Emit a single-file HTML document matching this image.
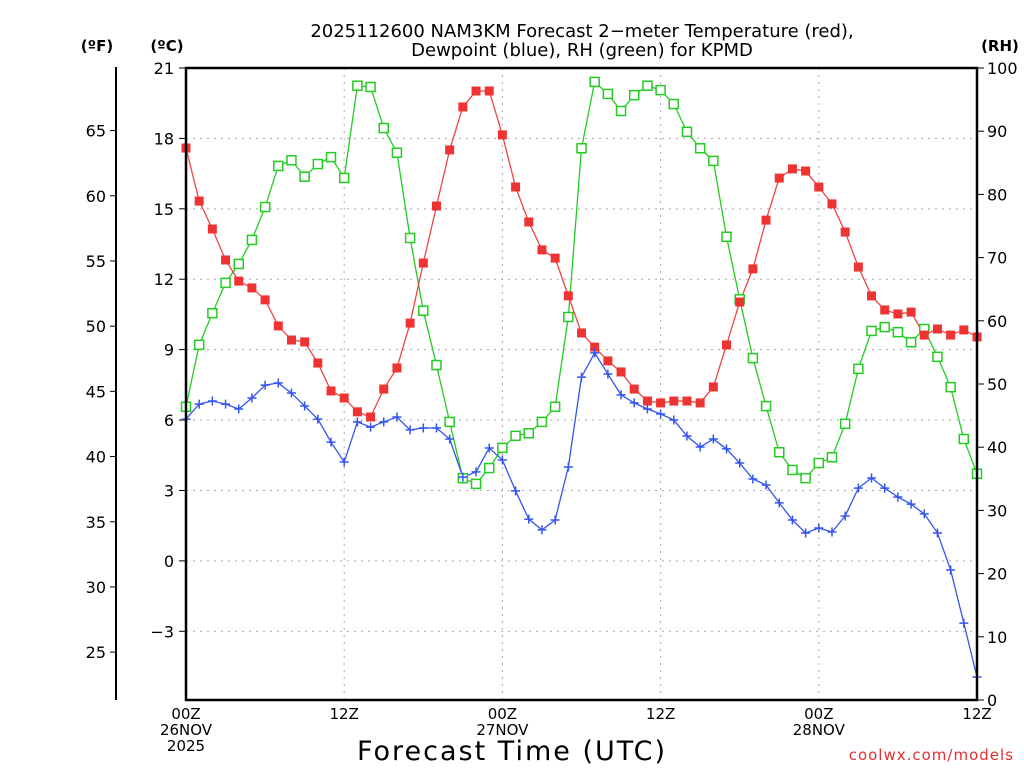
<!DOCTYPE html>
<html><head><meta charset="utf-8"><style>
body{margin:0;background:#fff}
svg text{font-family:"DejaVu Sans","Liberation Sans",sans-serif}
</style></head><body>
<svg id="chart" width="1024" height="768" viewBox="0 0 1024 768">
<text x="582" y="37" font-size="18" text-anchor="middle">2025112600 NAM3KM Forecast 2−meter Temperature (red),</text>
<text x="582" y="56" font-size="18" text-anchor="middle">Dewpoint (blue), RH (green) for KPMD</text>
<text x="97" y="51" font-size="15" font-weight="bold" text-anchor="middle">(ºF)</text>
<text x="167" y="51" font-size="15" font-weight="bold" text-anchor="middle">(ºC)</text>
<text x="1000" y="51" font-size="15" font-weight="bold" text-anchor="middle">(RH)</text>
<g id="grid"></g>
<g id="axes"></g>
<g id="series"></g>
<rect x="186" y="68" width="791" height="632" fill="none" stroke="#000" stroke-width="2.5"/>
<text x="512" y="760" font-size="27" text-anchor="middle" letter-spacing="2">Forecast Time (UTC)</text>
<text x="1014" y="760" font-size="15" fill="#e03030" text-anchor="end" letter-spacing="1">coolwx.com/models</text>
</svg>
<script>
const hours = Array.from({length:61},(_,i)=>i);
const tempC = [17.59,15.33,14.14,12.82,11.92,11.63,11.12,10.01,9.41,9.33,8.43,7.24,6.94,6.35,6.13,7.32,8.22,10.13,12.69,15.12,17.51,19.34,20.02,20.02,18.15,15.93,14.44,13.25,12.90,11.29,9.71,9.11,8.52,8.05,7.32,6.81,6.73,6.81,6.81,6.73,7.41,9.20,11.03,12.44,14.52,16.31,16.70,16.61,15.93,15.21,14.01,12.52,11.29,10.69,10.52,10.60,9.62,9.88,9.62,9.84,9.54];
const dewC = [6.04,6.68,6.81,6.68,6.47,6.94,7.49,7.58,7.15,6.60,6.04,5.06,4.21,5.92,5.70,5.92,6.13,5.58,5.66,5.66,5.19,3.57,3.79,4.81,4.30,2.98,1.78,1.32,1.74,4.00,7.83,8.86,7.96,7.07,6.73,6.47,6.26,6.00,5.32,4.85,5.19,4.77,4.17,3.49,3.23,2.47,1.74,1.19,1.40,1.23,1.91,3.10,3.53,3.10,2.72,2.42,2.00,1.19,-0.39,-2.65,-4.95];
const rh = [46.4,56.2,61.2,66.0,69.0,72.8,78.0,84.5,85.4,82.8,84.8,85.9,82.6,97.2,97.0,90.5,86.6,73.1,61.6,53.0,44.0,35.1,34.2,36.7,39.9,41.8,42.2,44.0,46.4,60.6,87.3,97.8,95.9,93.2,95.7,97.2,96.5,94.3,89.9,87.3,85.3,73.3,63.4,54.1,46.5,39.2,36.4,35.1,37.5,38.4,43.7,52.4,58.4,59.0,58.2,56.6,58.7,54.3,49.5,41.3,35.8];
const cTicks = [21,18,15,12,9,6,3,0,-3];
const fTicks = [65,60,55,50,45,40,35,30,25];
const rhTicks = [100,90,80,70,60,50,40,30,20,10,0];
const xTickHours = [0,12,24,36,48,60];
const xTickLabels = [["00Z","26NOV","2025"],["12Z"],["00Z","27NOV"],["12Z"],["00Z","28NOV"],["12Z"]];

const X0=186,X1=977,Y0=68,Y1=700;
const xs=h=>X0+(X1-X0)*h/60;
const yC=c=>Y0+(21-c)*23.47;
const yF=f=>yC((f-32)/1.8);
const yR=r=>Y1-(Y1-Y0)*r/100;
const NS="http://www.w3.org/2000/svg";
function mk(tag,attrs,parent,txt){const e=document.createElementNS(NS,tag);for(const k in attrs)e.setAttribute(k,attrs[k]);if(txt!==undefined)e.textContent=txt;parent.appendChild(e);return e;}
const grid=document.getElementById('grid'),axes=document.getElementById('axes'),ser=document.getElementById('series');

cTicks.forEach(c=>{const y=yC(c);
 const g=mk('line',{x1:X0,x2:X1,y1:y,y2:y,stroke:'#aaa','stroke-dasharray':'2,5'},grid);
 
 
 mk('line',{x1:X0-7,x2:X0,y1:y,y2:y,stroke:'#000'},axes);
 const t=mk('text',{x:X0-12,y:y+6,'font-size':16,'text-anchor':'end'},axes,c<0?'−'+Math.abs(c):String(c));
 
 
});
xTickHours.forEach((h,i)=>{const x=xs(h);
 if(h>0&&h<60){const g=mk('line',{x1:x,x2:x,y1:Y0,y2:Y1,stroke:'#aaa','stroke-dasharray':'2,5'},grid);
 
 }
 xTickLabels[i].forEach((s,j)=>{const t=mk('text',{x:x,y:719+j*16,'font-size':15,'text-anchor':'middle'},axes,s);
 
 });
});
mk('line',{x1:116,x2:116,y1:67,y2:700,stroke:'#000','stroke-width':2},axes);
fTicks.forEach(f=>{const y=yF(f);
 mk('line',{x1:110,x2:116,y1:y,y2:y,stroke:'#000'},axes);
 const t=mk('text',{x:106,y:y+6,'font-size':16,'text-anchor':'end'},axes,String(f));
 
 
});
rhTicks.forEach(r=>{const y=yR(r);
 mk('line',{x1:X1,x2:X1+7,y1:y,y2:y,stroke:'#000'},axes);
 const t=mk('text',{x:X1+10,y:y+6,'font-size':16},axes,String(r));
 
 
});

function line(vals,yf,color,name){
 const p=mk('polyline',{points:vals.map((v,i)=>xs(hours[i])+','+yf(v)).join(' '),fill:'none',stroke:color,'stroke-width':1.3},ser);
 
 
}
line(rh,yR,'#22cc22','rh-line');
line(tempC,yC,'#ee4444','temperature-line');
line(dewC,yC,'#3355ee','dewpoint-line');
rh.forEach((v,i)=>{const r=mk('rect',{x:xs(hours[i])-4.5,y:yR(v)-4.5,width:9,height:9,fill:'#fff',stroke:'#22cc22','stroke-width':1.5},ser);
 
 });
tempC.forEach((v,i)=>{const r=mk('rect',{x:xs(hours[i])-4.5,y:yC(v)-4.5,width:9,height:9,fill:'#ee3333'},ser);
 
 });
dewC.forEach((v,i)=>{const x=xs(hours[i]),y=yC(v);
 const p=mk('path',{d:`M${x-4.5},${y}H${x+4.5}M${x},${y-4.5}V${y+4.5}`,stroke:'#3355ee','stroke-width':1.5},ser);
 
 });
</script>
</body></html>
